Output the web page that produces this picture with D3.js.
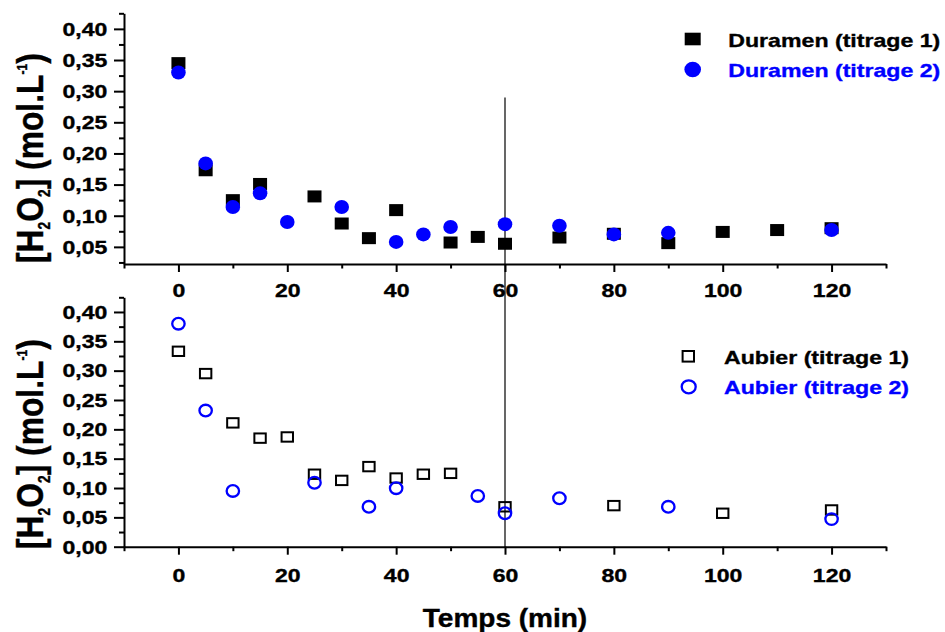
<!DOCTYPE html>
<html><head><meta charset="utf-8">
<script src="https://cdn.jsdelivr.net/npm/d3@7"></script>
<style>
body{margin:0;background:#fff}
svg{display:block}
text{font-family:"Liberation Sans",Arial,sans-serif;font-weight:bold}
</style>
</head><body>
<svg id="c" width="945" height="632"></svg>
<script>
// ---- data ----
const durT1X = [0,5,10,15,25,30,35,40,50,55,60,70,80,90,100,110,120];
const durT1Y = [0.345,0.173,0.125,0.151,0.131,0.0875,0.064,0.109,0.057,0.066,0.055,0.065,0.071,0.056,0.074,0.077,0.080];
const durT2X = [0,5,10,15,20,30,40,45,50,60,70,80,90,120];
const durT2Y = [0.330,0.184,0.114,0.136,0.090,0.114,0.058,0.070,0.082,0.0865,0.084,0.070,0.0725,0.077];
const aubT1X = [0,5,10,15,20,25,30,35,40,45,50,60,80,100,120];
const aubT1Y = [0.333,0.295,0.211,0.185,0.187,0.1235,0.113,0.1365,0.117,0.1235,0.125,0.068,0.070,0.057,0.0626];
const aubT2X = [0,5,10,25,35,40,55,60,70,90,120];
const aubT2Y = [0.380,0.232,0.095,0.109,0.068,0.0997,0.0865,0.057,0.0826,0.068,0.047];

const xMajorTicks = [0,20,40,60,80,100,120];
const xMinorTicks = [-10,10,30,50,70,90,110,130];
const yMajorTicksTop = [0.05,0.10,0.15,0.20,0.25,0.30,0.35,0.40];
const yMajorTicksBottom = [0.00,0.05,0.10,0.15,0.20,0.25,0.30,0.35,0.40];
const yMinorTicks = [0.025,0.075,0.125,0.175,0.225,0.275,0.325,0.375,0.425];
const legendTop = ["Duramen (titrage 1)","Duramen (titrage 2)"];
const legendBottom = ["Aubier (titrage 1)","Aubier (titrage 2)"];
const xTitle = "Temps (min)";
const markLineX = 60;

const BLUE = "#0000ff";
const svg = d3.select("#c");
const X0 = 124, X1 = 886;
const x = d3.scaleLinear().domain([-10,130]).range([X0,X1]);
const fmtY = v => d3.format(".2f")(v).replace(".", ",");

function axes(yScale, yBase, majors, labelOff){
  const gm = svg.append("g").attr("transform",`translate(${X0},0)`)
    .call(d3.axisLeft(yScale).tickValues(yMinorTicks.filter(v=>v>=yScale.domain()[0]-1e-9)).tickSize(5).tickSizeOuter(0).tickFormat(""));
  gm.select(".domain").remove();
  const gy = svg.append("g").attr("transform",`translate(${X0},0)`)
    .call(d3.axisLeft(yScale).tickValues(majors).tickSize(10).tickSizeOuter(0).tickFormat(fmtY));
  gy.selectAll("text").attr("x",0).attr("dy","0.35em").attr("font-size",18)
    .attr("transform","translate(-16.7,0) scale(1.28,1)");
  const gxm = svg.append("g").attr("transform",`translate(0,${yBase})`)
    .call(d3.axisBottom(x).tickValues(xMinorTicks).tickSize(4.5).tickSizeOuter(0).tickFormat(""));
  gxm.select(".domain").remove();
  const gx = svg.append("g").attr("transform",`translate(0,${yBase})`)
    .call(d3.axisBottom(x).tickValues(xMajorTicks).tickSize(8).tickSizeOuter(0).tickFormat(d3.format("d")));
  gx.selectAll("text").attr("y",0).attr("dy",0).attr("font-size",18)
    .attr("transform",`translate(0,${labelOff}) scale(1.28,1)`);
  svg.selectAll(".domain, .tick line").attr("stroke","#000").attr("stroke-width",2);
  svg.selectAll(".tick text").attr("fill","#000").attr("font-family",null)
    .attr("stroke","#000").attr("stroke-width",0.35);
}

function yLabel(px, pyBottom){
  const t = svg.append("text").attr("font-size",37).attr("stroke","#000").attr("stroke-width",0.4)
    .attr("transform",`translate(${px},${pyBottom}) rotate(-90) scale(0.86,1)`);
  t.append("tspan").text("[H");
  t.append("tspan").attr("font-size",16).attr("dy",6.7).text("2");
  t.append("tspan").attr("dy",-6.7).text("O");
  t.append("tspan").attr("font-size",16).attr("dy",6.7).text("2");
  t.append("tspan").attr("dy",-6.7).text("] (mol.L");
  t.append("tspan").attr("font-size",14).attr("dy",-16.6).text("-1");
  t.append("tspan").attr("dy",16.6).text(")");
}

function legendText(str, px, py, color){
  svg.append("text").attr("font-size",18.5).attr("fill",color).attr("stroke",color).attr("stroke-width",0.35)
    .attr("transform",`translate(${px},${py}) scale(1.25,1)`).text(str);
}

// ---- top panel ----
const yT = d3.scaleLinear().domain([0.0225,0.425]).range([264,13.3]);
axes(yT, 264, yMajorTicksTop, 32.7);

// ---- bottom panel ----
const yB = d3.scaleLinear().domain([0,0.425]).range([546.7,297.3]);
axes(yB, 546.7, yMajorTicksBottom, 35);

// vertical reference line at t=60
svg.append("line").attr("x1",x(markLineX)).attr("x2",x(markLineX))
  .attr("y1",97.5).attr("y2",547).attr("stroke","#000").attr("stroke-width",1.2);

// top markers
const dT1 = durT1X.map((v,i)=>({x:v,y:durT1Y[i]}));
const dT2 = durT2X.map((v,i)=>({x:v,y:durT2Y[i]}));
svg.append("g").selectAll("rect").data(dT1).join("rect")
  .attr("x",d=>x(d.x)-7).attr("y",d=>yT(d.y)-6).attr("width",14).attr("height",12).attr("fill","#000");
svg.append("g").selectAll("ellipse").data(dT2).join("ellipse")
  .attr("cx",d=>x(d.x)).attr("cy",d=>yT(d.y)).attr("rx",7.3).attr("ry",7).attr("fill",BLUE);

// bottom markers
const aT1 = aubT1X.map((v,i)=>({x:v,y:aubT1Y[i]}));
const aT2 = aubT2X.map((v,i)=>({x:v,y:aubT2Y[i]}));
svg.append("g").selectAll("rect").data(aT1).join("rect")
  .attr("x",d=>x(d.x)-5.7).attr("y",d=>yB(d.y)-4.7).attr("width",11.4).attr("height",9.4)
  .attr("fill","none").attr("stroke","#000").attr("stroke-width",2);
svg.append("g").selectAll("ellipse").data(aT2).join("ellipse")
  .attr("cx",d=>x(d.x)).attr("cy",d=>yB(d.y)).attr("rx",6.2).attr("ry",5.8)
  .attr("fill","none").attr("stroke",BLUE).attr("stroke-width",2.3);

// legends
svg.append("rect").attr("x",692.7-8).attr("y",39-6.3).attr("width",16).attr("height",12.6).attr("fill","#000");
svg.append("ellipse").attr("cx",692.7).attr("cy",69.5).attr("rx",8.3).attr("ry",7.8).attr("fill",BLUE);
legendText(legendTop[0], 728.3, 46.7, "#000");
legendText(legendTop[1], 728.3, 77, BLUE);

svg.append("rect").attr("x",688.3-5.7).attr("y",356.3-5.3).attr("width",11.4).attr("height",10.6)
  .attr("fill","none").attr("stroke","#000").attr("stroke-width",2);
svg.append("ellipse").attr("cx",688.7).attr("cy",386.8).attr("rx",7).attr("ry",6.5)
  .attr("fill","none").attr("stroke",BLUE).attr("stroke-width",2.3);
legendText(legendBottom[0], 724, 364, "#000");
legendText(legendBottom[1], 724, 394.3, BLUE);

// axis titles
yLabel(43.3, 263);
yLabel(43.3, 549);
svg.append("text").attr("font-size",25).attr("text-anchor","middle").attr("stroke","#000").attr("stroke-width",0.4)
  .attr("transform",`translate(${(X0+X1)/2},626.5) scale(1.12,1)`).text(xTitle);
</script>
</body></html>
